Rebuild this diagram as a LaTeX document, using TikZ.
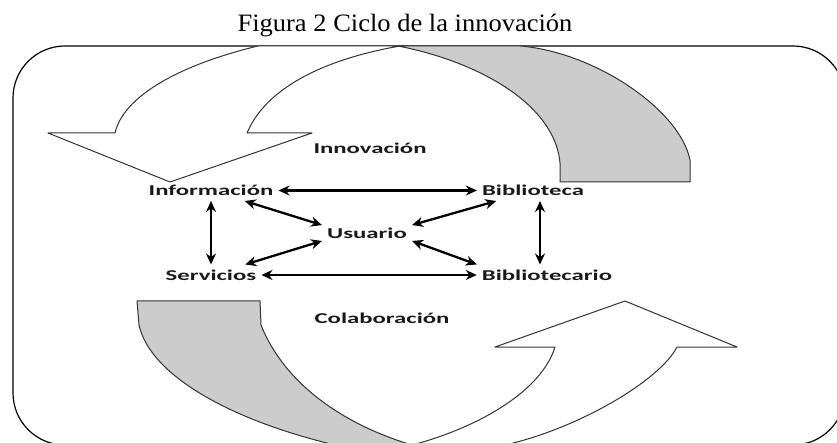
\documentclass[tikz,border=0pt]{standalone}
\usepackage{fontspec}
\setmainfont{Liberation Serif}
\newfontfamily\titlefont[FakeStretch=1.06]{Liberation Serif}
\newfontfamily\labelfont[FakeStretch=1.65]{Carlito}
\usepackage{tikz}
\usetikzlibrary{arrows.meta}
\tikzset{
    frame style/.style={line width=1.2pt, rounded corners=52pt},
    front face/.style={draw=black!80, fill=white, line width=1pt, line join=round},
    back face/.style={draw=black!80, fill=black!20, line width=1pt, line join=round},
    caption text/.style={font=\titlefont\fontsize{25}{28}\selectfont, inner sep=0pt, anchor=base},
    concept/.style={font=\labelfont\bfseries\fontsize{15}{18}\selectfont, text=black!90, inner sep=5pt},
    link/.style={<->, >={Stealth[length=11pt,width=10pt]}, line width=2.3pt},
}

\begin{document}
\begin{tikzpicture}[x=1pt, y=-1pt]
        \useasboundingbox (0,0) rectangle (837,443);
        \clip (0,0) rectangle (837,443);

        \draw[frame style] (13,46) rectangle (845,445);

        \draw[back face] (398,46) .. controls (480,62) and (555,105) .. (560,163)
            -- (560,182) -- (690,182) -- (690,160)
            .. controls (680,110) and (595,52) .. (520,46) -- cycle;
        \draw[front face] (258,46) .. controls (175,66) and (123,98) .. (115,133)
            -- (48,133) -- (170,182) -- (312,133) -- (247,133)
            .. controls (265,90) and (320,60) .. (400,46) -- cycle;

        \draw[back face] (137,301) -- (260,301) -- (261,325)
            .. controls (285,385) and (345,425) .. (412,445) -- (335,445)
            .. controls (230,420) and (150,375) .. (139,325) -- cycle;
        \draw[front face] (412,445) .. controls (470,430) and (540,395) .. (555,347)
            -- (495,347) -- (625,301) -- (737,347) -- (677,347)
            .. controls (660,380) and (580,428) .. (505,445) -- cycle;

        \node[caption text] (ttl) at (405,32) {Figura 2 Ciclo de la innovación};

        \node[concept] (inn) at (370,148) {Innovación};
        \node[concept] (inf) at (211,190.5) {Información};
        \node[concept] (bib) at (533,190.5) {Biblioteca};
        \node[concept] (usu) at (367,233) {Usuario};
        \node[concept] (ser) at (211,275) {Servicios};
        \node[concept] (btr) at (547,275) {Bibliotecario};
        \node[concept] (col) at (382,318) {Colaboración};

        \draw[link] (inf) -- (bib);
        \draw[link] (ser) -- (btr);
        \draw[link] (inf) -- (ser);
        \draw[link] ([xshift=7pt]bib.south) -- ([xshift=-7pt]btr.north);
        \draw[link] (usu.170) -- (inf);
        \draw[link] (usu.190) -- (ser);
        \draw[link] (usu.10) -- (bib);
        \draw[link] (usu.350) -- (btr.north west);
    \end{tikzpicture}
\end{document}
